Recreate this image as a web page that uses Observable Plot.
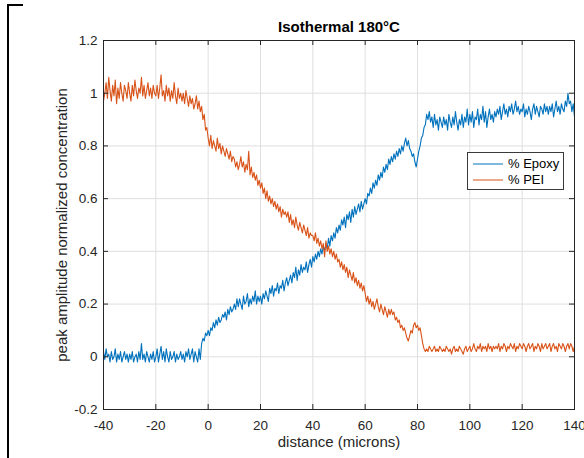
<!DOCTYPE html>
<html>
<head>
<meta charset="utf-8">
<script src="https://cdn.jsdelivr.net/npm/d3@7"></script>
<script src="https://cdn.jsdelivr.net/npm/@observablehq/plot@0.6"></script>
<style>
  html, body { margin: 0; padding: 0; background: #fff; }
  #wrap { position: relative; width: 584px; height: 458px; overflow: hidden; font-family: "Liberation Sans", Arial, sans-serif; }
  #frameL { position: absolute; left: 7px; top: 4px; width: 2px; height: 460px; background: #000; }
  #frameT { position: absolute; left: 7px; top: 4px; width: 16px; height: 2px; background: #000; }
  #legend { position: absolute; left: 467px; top: 152px; width: 97px; height: 38px; background: #fff; border: 1px solid #3a3a3a; box-sizing: border-box; }
</style>
</head>
<body>
<div id="wrap"></div>
<script>
// ---- data (sampled every 0.5 micron from -40 to 140) ----
const step = 0.5;
const distance = d3.range(-40, 140 + step / 2, step);

const epoxy = [
  0.02,-0.01,0.03,0.00,0.01,-0.02,0.02,-0.01,0.00,0.03,-0.02,0.01,-0.01,0.02,-0.02,0.00,0.02,-0.01,0.01,-0.02,
  0.01,-0.01,0.02,-0.02,0.00,0.01,-0.02,0.02,-0.01,0.05,-0.01,0.01,-0.02,0.02,0.00,-0.02,0.01,-0.01,0.02,-0.02,
  0.00,0.03,-0.02,0.01,0.04,-0.01,0.02,-0.02,0.03,0.00,-0.02,0.02,-0.01,0.00,0.02,-0.02,0.01,-0.01,0.00,0.02,
  -0.01,0.01,-0.02,0.02,0.00,0.03,-0.01,0.01,0.03,-0.02,0.02,0.00,-0.02,0.03,-0.01,0.05,0.07,0.06,0.09,0.08,
  0.10,0.08,0.11,0.10,0.13,0.11,0.14,0.12,0.15,0.13,0.14,0.16,0.15,0.17,0.14,0.18,0.16,0.19,0.17,0.18,
  0.20,0.18,0.22,0.19,0.22,0.20,0.18,0.23,0.20,0.21,0.24,0.19,0.22,0.20,0.23,0.21,0.25,0.20,0.23,0.21,
  0.23,0.20,0.24,0.22,0.25,0.23,0.21,0.26,0.24,0.27,0.23,0.26,0.25,0.28,0.24,0.27,0.26,0.29,0.25,0.28,
  0.30,0.27,0.29,0.31,0.28,0.32,0.30,0.34,0.29,0.33,0.31,0.35,0.32,0.34,0.33,0.36,0.32,0.35,0.37,0.34,
  0.38,0.36,0.39,0.37,0.40,0.38,0.41,0.39,0.42,0.40,0.43,0.41,0.45,0.42,0.46,0.44,0.47,0.45,0.49,0.47,
  0.50,0.48,0.52,0.50,0.53,0.49,0.54,0.52,0.55,0.51,0.56,0.53,0.57,0.54,0.56,0.58,0.55,0.59,0.56,0.58,
  0.60,0.58,0.62,0.61,0.64,0.62,0.66,0.64,0.67,0.65,0.69,0.67,0.70,0.68,0.72,0.70,0.73,0.71,0.75,0.73,
  0.76,0.74,0.77,0.75,0.78,0.76,0.79,0.77,0.80,0.78,0.81,0.83,0.80,0.82,0.79,0.78,0.76,0.77,0.74,0.72,
  0.75,0.78,0.80,0.83,0.84,0.87,0.88,0.92,0.90,0.93,0.89,0.91,0.87,0.92,0.88,0.90,0.86,0.91,0.89,0.87,
  0.91,0.88,0.90,0.86,0.92,0.89,0.87,0.91,0.88,0.93,0.89,0.86,0.90,0.88,0.92,0.87,0.91,0.89,0.94,0.88,
  0.92,0.89,0.93,0.87,0.91,0.90,0.94,0.88,0.92,0.90,0.95,0.89,0.93,0.87,0.91,0.94,0.90,0.92,0.89,0.93,
  0.91,0.94,0.92,0.95,0.90,0.93,0.96,0.92,0.94,0.91,0.95,0.93,0.96,0.92,0.94,0.97,0.93,0.95,0.92,0.94,
  0.93,0.96,0.91,0.94,0.92,0.95,0.93,0.90,0.94,0.96,0.92,0.95,0.93,0.91,0.95,0.94,0.92,0.96,0.93,0.95,
  0.92,0.95,0.93,0.96,0.91,0.94,0.97,0.93,0.95,0.92,0.96,0.94,0.93,0.97,0.95,1.00,0.96,0.97,0.93,0.96,
  0.91
];

const pei = [
  0.97,1.00,1.04,0.98,1.06,1.01,0.97,1.03,0.99,1.05,0.96,1.02,0.98,1.04,1.00,0.97,1.03,1.01,0.98,1.04,
  1.00,0.97,1.03,0.99,1.05,1.01,0.98,1.02,1.00,1.06,0.99,1.03,0.98,1.01,1.04,0.99,1.02,0.98,1.03,1.00,
  0.99,1.03,0.98,1.02,1.07,0.99,1.01,0.97,1.03,0.99,1.02,0.97,1.01,0.98,1.04,0.99,0.96,1.02,0.98,1.00,
  0.97,1.00,0.96,1.01,0.98,0.95,0.99,0.96,0.98,0.94,0.96,0.99,0.94,0.97,0.93,0.95,0.90,0.92,0.86,0.87,
  0.83,0.80,0.84,0.79,0.82,0.80,0.78,0.83,0.79,0.81,0.77,0.80,0.78,0.76,0.79,0.77,0.75,0.78,0.74,0.76,
  0.75,0.72,0.74,0.71,0.73,0.76,0.72,0.74,0.70,0.73,0.71,0.78,0.69,0.72,0.68,0.70,0.67,0.69,0.65,0.67,
  0.64,0.66,0.62,0.64,0.60,0.63,0.59,0.61,0.58,0.60,0.57,0.59,0.56,0.58,0.55,0.57,0.53,0.56,0.54,0.55,
  0.53,0.55,0.51,0.54,0.50,0.52,0.49,0.53,0.50,0.48,0.51,0.49,0.47,0.50,0.48,0.46,0.49,0.45,0.47,0.46,
  0.46,0.44,0.47,0.43,0.45,0.42,0.44,0.41,0.43,0.38,0.44,0.40,0.42,0.39,0.41,0.38,0.40,0.37,0.39,0.36,
  0.37,0.34,0.36,0.33,0.35,0.32,0.34,0.30,0.33,0.31,0.29,0.32,0.28,0.30,0.27,0.29,0.26,0.28,0.25,0.27,
  0.24,0.21,0.23,0.20,0.22,0.19,0.21,0.18,0.20,0.22,0.19,0.17,0.20,0.18,0.16,0.19,0.17,0.15,0.18,0.16,
  0.18,0.16,0.17,0.14,0.15,0.13,0.14,0.11,0.12,0.10,0.11,0.09,0.07,0.06,0.08,0.10,0.09,0.12,0.13,0.11,
  0.12,0.10,0.11,0.08,0.05,0.03,0.02,0.03,0.02,0.04,0.03,0.02,0.03,0.04,0.02,0.03,0.02,0.04,0.03,0.02,
  0.03,0.02,0.04,0.03,0.02,0.03,0.01,0.03,0.04,0.02,0.03,0.02,0.04,0.03,0.02,0.01,0.03,0.04,0.02,0.03,
  0.04,0.02,0.03,0.05,0.03,0.02,0.04,0.03,0.05,0.02,0.04,0.03,0.04,0.02,0.05,0.03,0.04,0.02,0.04,0.03,
  0.04,0.03,0.05,0.02,0.04,0.03,0.05,0.04,0.02,0.04,0.03,0.05,0.04,0.03,0.05,0.02,0.04,0.03,0.05,0.04,
  0.03,0.05,0.04,0.02,0.04,0.05,0.03,0.04,0.05,0.02,0.04,0.03,0.05,0.04,0.02,0.05,0.03,0.04,0.05,0.03,
  0.04,0.05,0.02,0.04,0.05,0.03,0.04,0.02,0.05,0.04,0.03,0.05,0.04,0.02,0.04,0.05,0.03,0.05,0.04,0.02,
  0.04
];

const seriesNames = ["% Epoxy", "% PEI"];
const seriesColors = ["#0072BD", "#D95319"];
const xTicks = [-40, -20, 0, 20, 40, 60, 80, 100, 120, 140];
const yTicks = [-0.2, 0, 0.2, 0.4, 0.6, 0.8, 1, 1.2];
const titleText = "Isothermal 180°C";
const xLabel = "distance (microns)";
const yLabel = "peak amplitude normalized concentration";

// ---- build table ----
const rows = [];
distance.forEach((d, i) => {
  rows.push({ x: d, v: epoxy[i], s: seriesNames[0] });
  rows.push({ x: d, v: pei[i], s: seriesNames[1] });
});

const W = 584, H = 458, mL = 103, mR = 10, mT = 40, mB = 49;
const innerH = H - mT - mB, innerW = W - mL - mR;
const axisColor = "#262626";
const gridColor = "#dfdfdf";
const fmt = d => String(Math.round(d * 10) / 10);

const chart = Plot.plot({
  width: W, height: H,
  marginLeft: mL, marginRight: mR, marginTop: mT, marginBottom: mB,
  style: { fontFamily: '"Liberation Sans", Arial, sans-serif', fontSize: "13.5px", color: axisColor, background: "transparent" },
  x: { domain: [-40, 140] },
  y: { domain: [-0.2, 1.2] },
  color: { domain: seriesNames, range: seriesColors },
  marks: [
    Plot.gridX(xTicks, { stroke: gridColor, strokeOpacity: 1 }),
    Plot.gridY(yTicks, { stroke: gridColor, strokeOpacity: 1 }),
    Plot.lineY(rows, { x: "x", y: "v", stroke: "s", strokeWidth: 1.1 }),
    // inward ticks on all four sides
    Plot.tickX(xTicks, { x: d => d, stroke: axisColor, insetTop: innerH - 5 }),
    Plot.tickX(xTicks, { x: d => d, stroke: axisColor, insetBottom: innerH - 5 }),
    Plot.tickY(yTicks, { y: d => d, stroke: axisColor, insetRight: innerW - 5 }),
    Plot.tickY(yTicks, { y: d => d, stroke: axisColor, insetLeft: innerW - 5 }),
    Plot.frame({ stroke: axisColor, strokeWidth: 1 }),
    Plot.axisX(xTicks, { tickSize: 0, tickPadding: 11, tickFormat: fmt, label: null, fill: axisColor }),
    Plot.axisY(yTicks, { tickSize: 0, tickPadding: 6, tickFormat: fmt, label: null, fill: axisColor }),
    Plot.text([xLabel], { frameAnchor: "bottom", dy: 33, lineAnchor: "middle", text: d => d, fontSize: 15, fill: axisColor }),
    Plot.text([yLabel], { frameAnchor: "left", dx: -41, textAnchor: "middle", lineAnchor: "middle", rotate: -90, text: d => d, fontSize: 15, fill: axisColor }),
    Plot.text([titleText], { frameAnchor: "top", dy: -13, lineAnchor: "middle", text: d => d, fontSize: 15, fontWeight: "bold", fill: "#000" })
  ]
});

const wrap = document.getElementById("wrap");
chart.style.position = "absolute";
chart.style.left = "0"; chart.style.top = "0";
wrap.appendChild(chart);

// frame edges of the original screenshot
const fl = document.createElement("div"); fl.id = "frameL"; wrap.appendChild(fl);
const ft = document.createElement("div"); ft.id = "frameT"; wrap.appendChild(ft);

// legend
const lg = document.createElement("div");
lg.id = "legend";
lg.innerHTML = seriesNames.map((n, i) =>
  `<div style="position:absolute;left:4px;top:${3 + i * 16}px;height:16px;display:flex;align-items:center;white-space:nowrap;">
     <svg width="32" height="16" style="display:block"><line x1="1" y1="8" x2="31" y2="8" stroke="${seriesColors[i]}" stroke-width="1"/></svg>
     <span style="margin-left:4px;font-size:13px;color:#000;line-height:16px;">${n}</span>
   </div>`).join("");
wrap.appendChild(lg);
</script>
</body>
</html>
